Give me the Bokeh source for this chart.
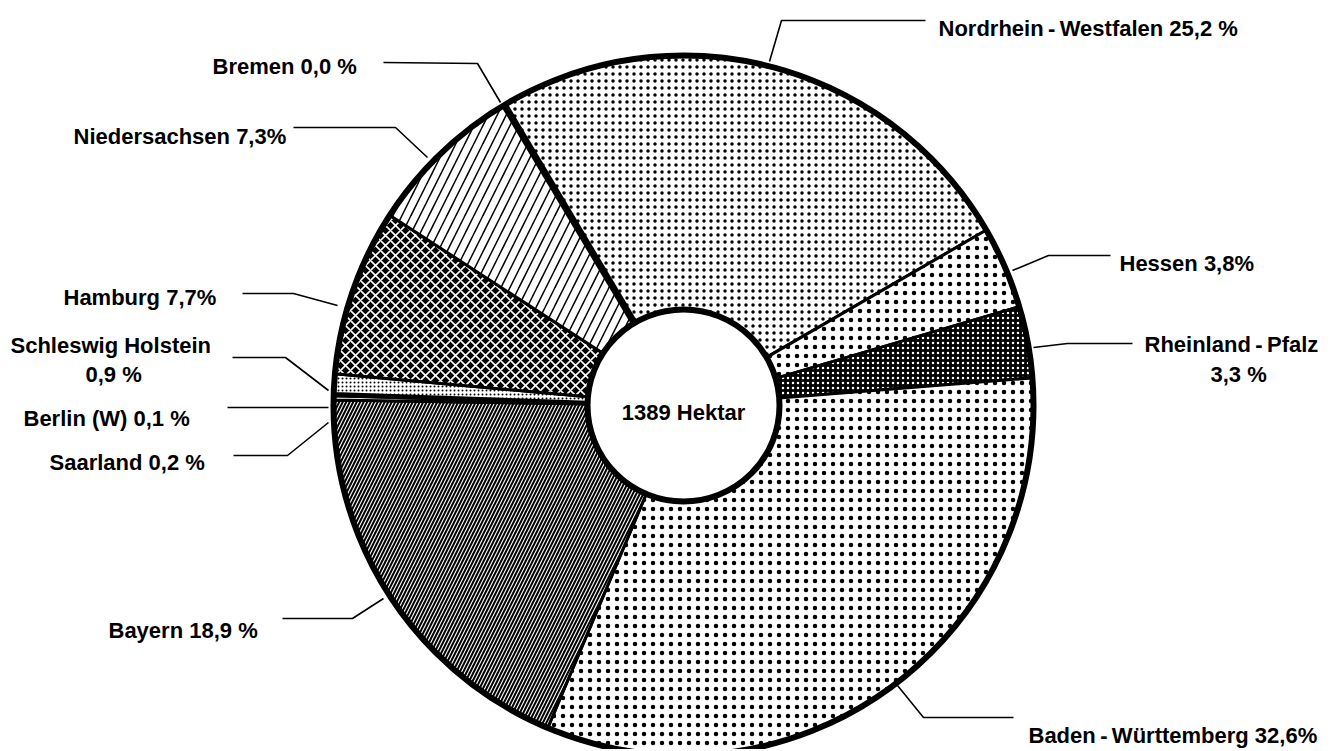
import math
from bokeh.plotting import figure
from bokeh.models import Range1d
from bokeh.embed import file_html
from bokeh.resources import INLINE
from bokeh.core.properties import value

# ---------------- data ----------------
states = ["Nordrhein-Westfalen", "Hessen", "Rheinland-Pfalz", "Baden-Württemberg",
          "Bayern", "Saarland", "Berlin (W)", "Schleswig-Holstein", "Hamburg",
          "Niedersachsen", "Bremen"]
shares = [25.2, 3.8, 3.3, 32.6, 18.9, 0.2, 0.1, 0.9, 7.7, 7.3, 0.0]
total_label = "1389 Hektar"
label_texts = [
    "Nordrhein\u2009-\u2009Westfalen  25,2 %",
    "Hessen 3,8%",
    "Rheinland\u2009-\u2009Pfalz",
    "3,3 %",
    "Baden\u2009-\u2009Württemberg 32,6%",
    "Bayern  18,9 %",
    "Saarland 0,2 %",
    "Berlin (W) 0,1 %",
    "Schleswig Holstein",
    "0,9 %",
    "Hamburg 7,7%",
    "Niedersachsen 7,3%",
    "Bremen 0,0 %",
]

# ---------------- layout / style (page pixel coordinates) ----------------
W, H = 1334, 749
CX, CY = 683, 405          # pie centre (page px)
R_OUT, R_IN = 350, 96
START_DEG = 120.8          # math angle where the first slice starts (clockwise order)

slice_styles = {
    "Nordrhein-Westfalen": dict(fill_color="white", hatch_pattern="dot", hatch_color="black", hatch_scale=7, hatch_weight=2.6),
    "Hessen": dict(fill_color="white", hatch_pattern="dot", hatch_color="black", hatch_scale=9, hatch_weight=0.0),
    "Rheinland-Pfalz": dict(fill_color="black", hatch_pattern="dot", hatch_color="white", hatch_scale=5, hatch_weight=1.5),
    "Baden-Württemberg": dict(fill_color="white", hatch_pattern="dot", hatch_color="black", hatch_scale=9, hatch_weight=0.8),
    "Bayern": dict(fill_color="black", hatch_pattern="right_diagonal_line", hatch_color="white", hatch_scale=7, hatch_weight=1.1),
    "Saarland": dict(fill_color="white", hatch_pattern=None, hatch_color="black", hatch_scale=6, hatch_weight=1.0),
    "Berlin (W)": dict(fill_color="white", hatch_pattern=None, hatch_color="black", hatch_scale=6, hatch_weight=1.0),
    "Schleswig-Holstein": dict(fill_color="white", hatch_pattern="dot", hatch_color="black", hatch_scale=4, hatch_weight=0.5),
    "Hamburg": dict(fill_color="black", hatch_pattern="diagonal_cross", hatch_color="white", hatch_scale=10, hatch_weight=1.6),
    "Niedersachsen": dict(fill_color="white", hatch_pattern="right_diagonal_line", hatch_color="black", hatch_scale=18, hatch_weight=1.5),
}

label_pos = [  # (x, baseline y) in page px, same order as label_texts
    (938, 28), (1119, 263), (1144, 344), (1210, 374), (1028, 735), (108, 630),
    (49, 462), (23, 418), (10, 345), (85, 374), (63, 297), (73, 136), (212, 66),
]
leaders = [
    [(769, 61), (781, 20), (925, 20)],
    [(1110, 255), (1048, 255), (1012, 270)],
    [(1132, 343), (1067, 343), (1033, 347)],
    [(1013, 717), (923, 717), (897, 685)],
    [(282, 618), (352, 618), (383, 598)],
    [(233, 455), (287, 455), (328, 422)],
    [(227, 407), (328, 407)],
    [(232, 357), (285, 357), (328, 390)],
    [(242, 293), (293, 293), (337, 305)],
    [(293, 127), (395, 127), (427, 157)],
    [(383, 62), (477, 63), (500, 102)],
]

FONT = value("Liberation Sans")

p = figure(width=W, height=H, x_range=Range1d(0, W), y_range=Range1d(-H, 0),
           output_backend="svg", toolbar_location=None, min_border=0,
           x_axis_type=None, y_axis_type=None)
p.grid.visible = False
p.outline_line_color = None
p.background_fill_color = "white"

cy = -CY
cum = 0.0
for name, s in zip(states, shares):
    a0 = START_DEG - cum * 3.6
    a1 = a0 - s * 3.6
    cum += s
    if s <= 0:
        continue
    st = slice_styles[name]
    kw = dict(fill_color=st["fill_color"])
    if st["hatch_pattern"]:
        kw.update(hatch_pattern=st["hatch_pattern"], hatch_color=st["hatch_color"],
                  hatch_scale=st["hatch_scale"], hatch_weight=st["hatch_weight"])
    p.annular_wedge(x=[CX], y=[cy], inner_radius=R_IN, outer_radius=R_OUT,
                    start_angle=[math.radians(a0)], end_angle=[math.radians(a1)],
                    direction="clock", line_color="black", line_width=3, **kw)

# zero-share slice (Bremen) drawn as a thick boundary line
cum = 0.0
for name, s in zip(states, shares):
    if s <= 0:
        a = math.radians(START_DEG - cum * 3.6)
        p.segment(x0=[CX + R_IN * math.cos(a)], y0=[cy + R_IN * math.sin(a)],
                  x1=[CX + R_OUT * math.cos(a)], y1=[cy + R_OUT * math.sin(a)],
                  line_color="black", line_width=7)
    cum += s

p.circle(x=[CX], y=[cy], radius=R_OUT, fill_color=None, line_color="black", line_width=6)
p.circle(x=[CX], y=[cy], radius=R_IN, fill_color="white", line_color="black", line_width=6)

p.multi_line(xs=[[pt[0] for pt in l] for l in leaders],
             ys=[[-pt[1] for pt in l] for l in leaders],
             line_color="black", line_width=1.6)

p.text(x=[x for x, _ in label_pos], y=[-y for _, y in label_pos], text=label_texts,
       text_font=FONT, text_font_style="bold", text_font_size="22px",
       text_baseline="alphabetic", text_align="left", text_color="black")

p.text(x=[CX], y=[-412], text=[total_label], text_font=FONT, text_font_style="bold",
       text_font_size="22px", text_baseline="alphabetic", text_align="center", text_color="black")

open("out.html", "w").write(file_html(p, INLINE))
